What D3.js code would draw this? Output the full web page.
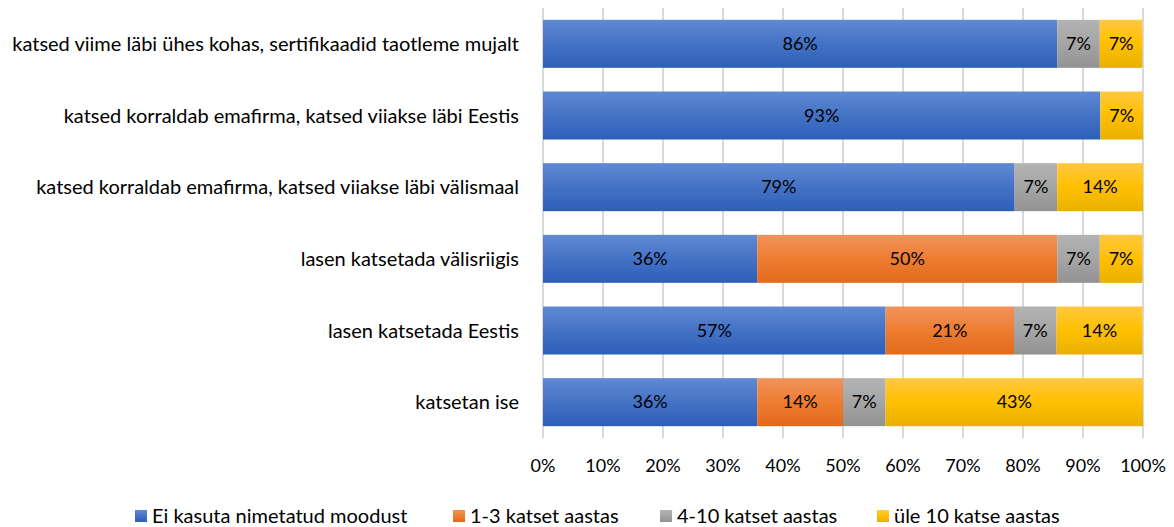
<!DOCTYPE html>
<html>
<head>
<meta charset="utf-8">
<script src="https://cdn.jsdelivr.net/npm/d3@7"></script>
<style>
  body { margin: 0; background: #fff; }
  text { font-family: Lato, "Open Sans", sans-serif; }
</style>
</head>
<body>
<div id="chart"></div>
<script>
// Data
var categories = [
    "katsed viime läbi ühes kohas, sertifikaadid taotleme mujalt",
    "katsed korraldab emafirma, katsed viiakse läbi Eestis",
    "katsed korraldab emafirma, katsed viiakse läbi välismaal",
    "lasen katsetada välisriigis",
    "lasen katsetada Eestis",
    "katsetan ise"
];
var seriesNames = ["Ei kasuta nimetatud moodust", "1-3 katset aastas", "4-10 katset aastas", "üle 10 katse aastas"];
var eiKasuta = [85.7, 92.9, 78.6, 35.7, 57.1, 35.7];
var katset1_3 = [0, 0, 0, 50.0, 21.4, 14.3];
var katset4_10 = [7.1, 0, 7.1, 7.1, 7.1, 7.1];
var yle10 = [7.1, 7.1, 14.3, 7.1, 14.3, 42.9];
var xTicks = [0, 10, 20, 30, 40, 50, 60, 70, 80, 90, 100];

var colors = [
    ["#6189d3", "#4472c4", "#2e5fb8"],
    ["#f1935c", "#ed7d31", "#e2691b"],
    ["#b3b3b3", "#a5a5a5", "#929292"],
    ["#ffc840", "#ffc000", "#e8b000"]
];

var svgWidth = 1174;
var svgHeight = 527;

var svg = d3.select("#chart")
    .append("svg")
    .attr("width", svgWidth)
    .attr("height", svgHeight);

// gradients
var defs = svg.append("defs");
colors.forEach((c, i) => {
    var g = defs.append("linearGradient")
        .attr("id", "grad" + i)
        .attr("x1", 0).attr("y1", 0).attr("x2", 0).attr("y2", 1);
    g.append("stop").attr("offset", "0%").attr("stop-color", c[0]);
    g.append("stop").attr("offset", "50%").attr("stop-color", c[1]);
    g.append("stop").attr("offset", "100%").attr("stop-color", c[2]);
});

var xScale = d3.scaleLinear().domain([0, 100]).range([543, 1143]);
var yScale = d3.scaleBand().domain(categories).range([8, 438]).paddingInner(0.33).paddingOuter(0.165);

// gridlines
svg.append("g").selectAll("line")
    .data(xTicks)
    .enter()
    .append("line")
    .attr("x1", d => xScale(d))
    .attr("x2", d => xScale(d))
    .attr("y1", 8)
    .attr("y2", 438)
    .attr("stroke", "#b3b3b3")
    .attr("stroke-width", 1);

// stack data
var rows = categories.map((c, i) => ({
    cat: c,
    vals: [eiKasuta[i], katset1_3[i], katset4_10[i], yle10[i]]
}));
var segs = [];
rows.forEach(r => {
    var x0 = 0;
    r.vals.forEach((v, s) => {
        if (v > 0) segs.push({ cat: r.cat, s: s, x0: x0, x1: x0 + v, v: v });
        x0 += v;
    });
});

svg.append("g").selectAll("rect")
    .data(segs)
    .enter()
    .append("rect")
    .attr("x", d => xScale(d.x0))
    .attr("width", d => xScale(d.x1) - xScale(d.x0))
    .attr("y", d => yScale(d.cat))
    .attr("height", yScale.bandwidth())
    .attr("fill", d => "url(#grad" + d.s + ")");

// data labels
svg.append("g").selectAll("text")
    .data(segs)
    .enter()
    .append("text")
    .attr("x", d => xScale((d.x0 + d.x1) / 2))
    .attr("y", d => yScale(d.cat) + yScale.bandwidth() / 2)
    .attr("dy", "0.35em")
    .attr("text-anchor", "middle")
    .attr("font-size", "18px")
    .attr("fill", "#000")
    .text(d => Math.round(d.v) + "%");

// category labels
svg.append("g").selectAll("text")
    .data(categories)
    .enter()
    .append("text")
    .attr("x", 519)
    .attr("y", d => yScale(d) + yScale.bandwidth() / 2)
    .attr("dy", "0.35em")
    .attr("text-anchor", "end")
    .attr("font-size", "20px")
    .attr("fill", "#000")
    .text(d => d);

// x tick labels
svg.append("g").selectAll("text")
    .data(xTicks)
    .enter()
    .append("text")
    .attr("x", d => xScale(d))
    .attr("y", 466)
    .attr("dy", "0.35em")
    .attr("text-anchor", "middle")
    .attr("font-size", "18px")
    .attr("fill", "#000")
    .text(d => d + "%");

// legend
var legendX = [135, 453, 660, 877];
var legend = svg.append("g").selectAll("g")
    .data(seriesNames)
    .enter()
    .append("g")
    .attr("transform", (d, i) => `translate(${legendX[i]}, 516)`);
legend.append("rect")
    .attr("x", 0).attr("y", -6)
    .attr("width", 12).attr("height", 12)
    .attr("fill", (d, i) => "url(#grad" + i + ")");
legend.append("text")
    .attr("x", 17)
    .attr("dy", "0.35em")
    .attr("font-size", "20px")
    .attr("fill", "#000")
    .text(d => d);
</script>
</body>
</html>
